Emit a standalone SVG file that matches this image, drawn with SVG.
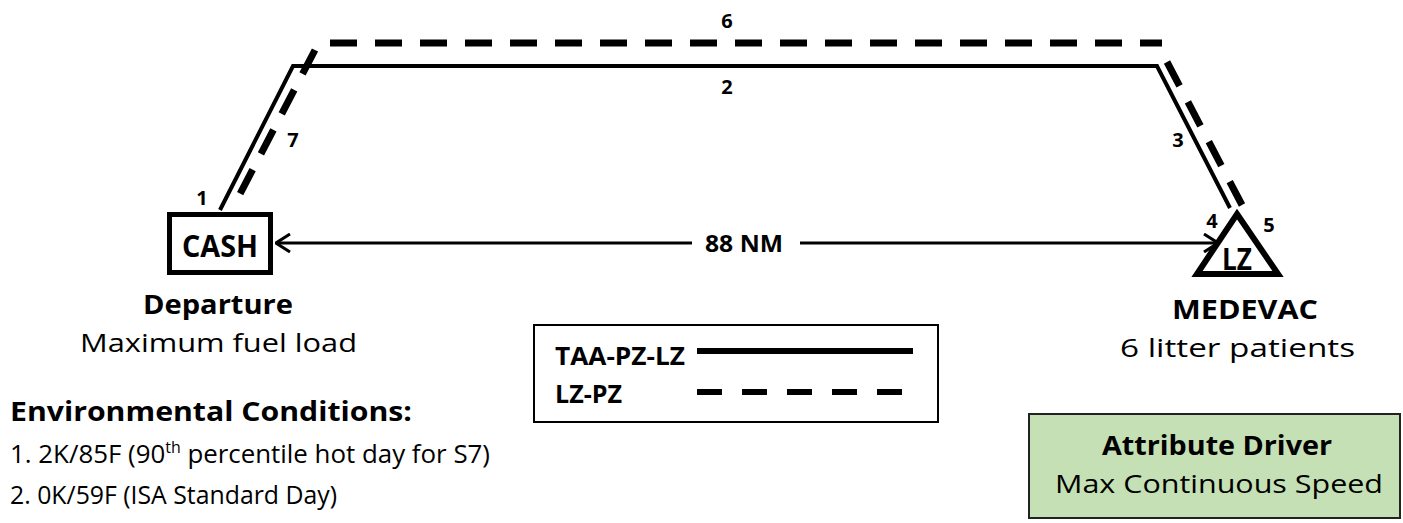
<svg xmlns="http://www.w3.org/2000/svg" width="1403" height="523" viewBox="0 0 1403 523">
<style>
text{font-family:"Open Sans","Liberation Sans",sans-serif;fill:#000}
.b{font-weight:bold}
.num{font-weight:bold;font-size:20px;text-anchor:middle}
.solid{fill:none;stroke:#000;stroke-width:4;stroke-linejoin:miter}
.dash{fill:none;stroke:#000;stroke-width:7;stroke-dasharray:27 18}
.big{font-size:26px}
.env{font-size:26px}
</style>
<defs>
<marker id="ah" viewBox="0 0 16 20" refX="15" refY="10" markerWidth="16" markerHeight="20" markerUnits="userSpaceOnUse" orient="auto-start-reverse">
<path d="M1,1 L15,10 L1,19" fill="none" stroke="#000" stroke-width="3"/>
</marker>
</defs>
<rect width="1403" height="523" fill="#fff"/>
<g id="connectors">
<path class="solid" d="M220,210 L293,66 L1157,66 L1230,208"/>
<path class="dash" d="M330,43 L1162,43"/>
<path class="dash" d="M315,50 L240,194"/>
<path class="dash" d="M1167,62 L1242,205"/>
<line x1="276" y1="243" x2="692" y2="243" stroke="#000" stroke-width="3" marker-start="url(#ah)"/>
<line x1="800" y1="243" x2="1218" y2="243" stroke="#000" stroke-width="3" marker-end="url(#ah)"/>
<text class="b" x="705" y="252" font-size="24" textLength="78" lengthAdjust="spacingAndGlyphs">88 NM</text>
<text class="num" x="727" y="28">6</text>
<text class="num" x="727" y="94">2</text>
<text class="num" x="202" y="205">1</text>
<text class="num" x="293" y="147">7</text>
<text class="num" x="1178" y="147">3</text>
<text class="num" x="1212" y="228">4</text>
<text class="num" x="1269" y="232">5</text>
</g>
<g id="cash">
<rect x="169.5" y="214.5" width="101" height="58" fill="#fff" stroke="#000" stroke-width="5"/>
<text class="b" x="182" y="257" font-size="31" textLength="76" lengthAdjust="spacingAndGlyphs">CASH</text>
<text class="b big" x="143" y="314" textLength="150" lengthAdjust="spacingAndGlyphs">Departure</text>
<text class="big" x="80" y="352" textLength="277" lengthAdjust="spacingAndGlyphs">Maximum fuel load</text>
</g>
<g id="lz">
<path d="M1237,214 L1278,274 L1197,274 Z" fill="#fff" stroke="#000" stroke-width="6" stroke-linejoin="miter"/>
<text class="b" x="1222" y="270" font-size="30" textLength="30" lengthAdjust="spacingAndGlyphs">LZ</text>
<text class="b big" x="1172" y="319" textLength="146" lengthAdjust="spacingAndGlyphs">MEDEVAC</text>
<text class="big" x="1120" y="357" textLength="235" lengthAdjust="spacingAndGlyphs">6 litter patients</text>
</g>
<g id="legend">
<rect x="534" y="325" width="404" height="97" fill="#fff" stroke="#000" stroke-width="2"/>
<text class="b" x="555" y="365" font-size="25" textLength="130" lengthAdjust="spacingAndGlyphs">TAA-PZ-LZ</text>
<text class="b" x="555" y="403" font-size="25" textLength="67" lengthAdjust="spacingAndGlyphs">LZ-PZ</text>
<line x1="697" y1="351" x2="913" y2="351" stroke="#000" stroke-width="6"/>
<line x1="697" y1="392" x2="913" y2="392" stroke="#000" stroke-width="6" stroke-dasharray="25 20"/>
</g>
<g id="env">
<text class="b env" x="10" y="421" textLength="402" lengthAdjust="spacingAndGlyphs">Environmental Conditions:</text>
<text class="env" x="10" y="463" textLength="480" lengthAdjust="spacingAndGlyphs">1. 2K/85F (90<tspan font-size="16" dy="-10">th</tspan><tspan dy="10"> percentile hot day for S7)</tspan></text>
<text class="env" x="10" y="504" textLength="327" lengthAdjust="spacingAndGlyphs">2. 0K/59F (ISA Standard Day)</text>
</g>
<g id="attribute">
<rect x="1029" y="414" width="371" height="104" fill="#c5e0b4" stroke="#222" stroke-width="2"/>
<text class="b big" x="1102" y="455" textLength="230" lengthAdjust="spacingAndGlyphs">Attribute Driver</text>
<text class="big" x="1055" y="493" textLength="328" lengthAdjust="spacingAndGlyphs">Max Continuous Speed</text>
</g>
</svg>
